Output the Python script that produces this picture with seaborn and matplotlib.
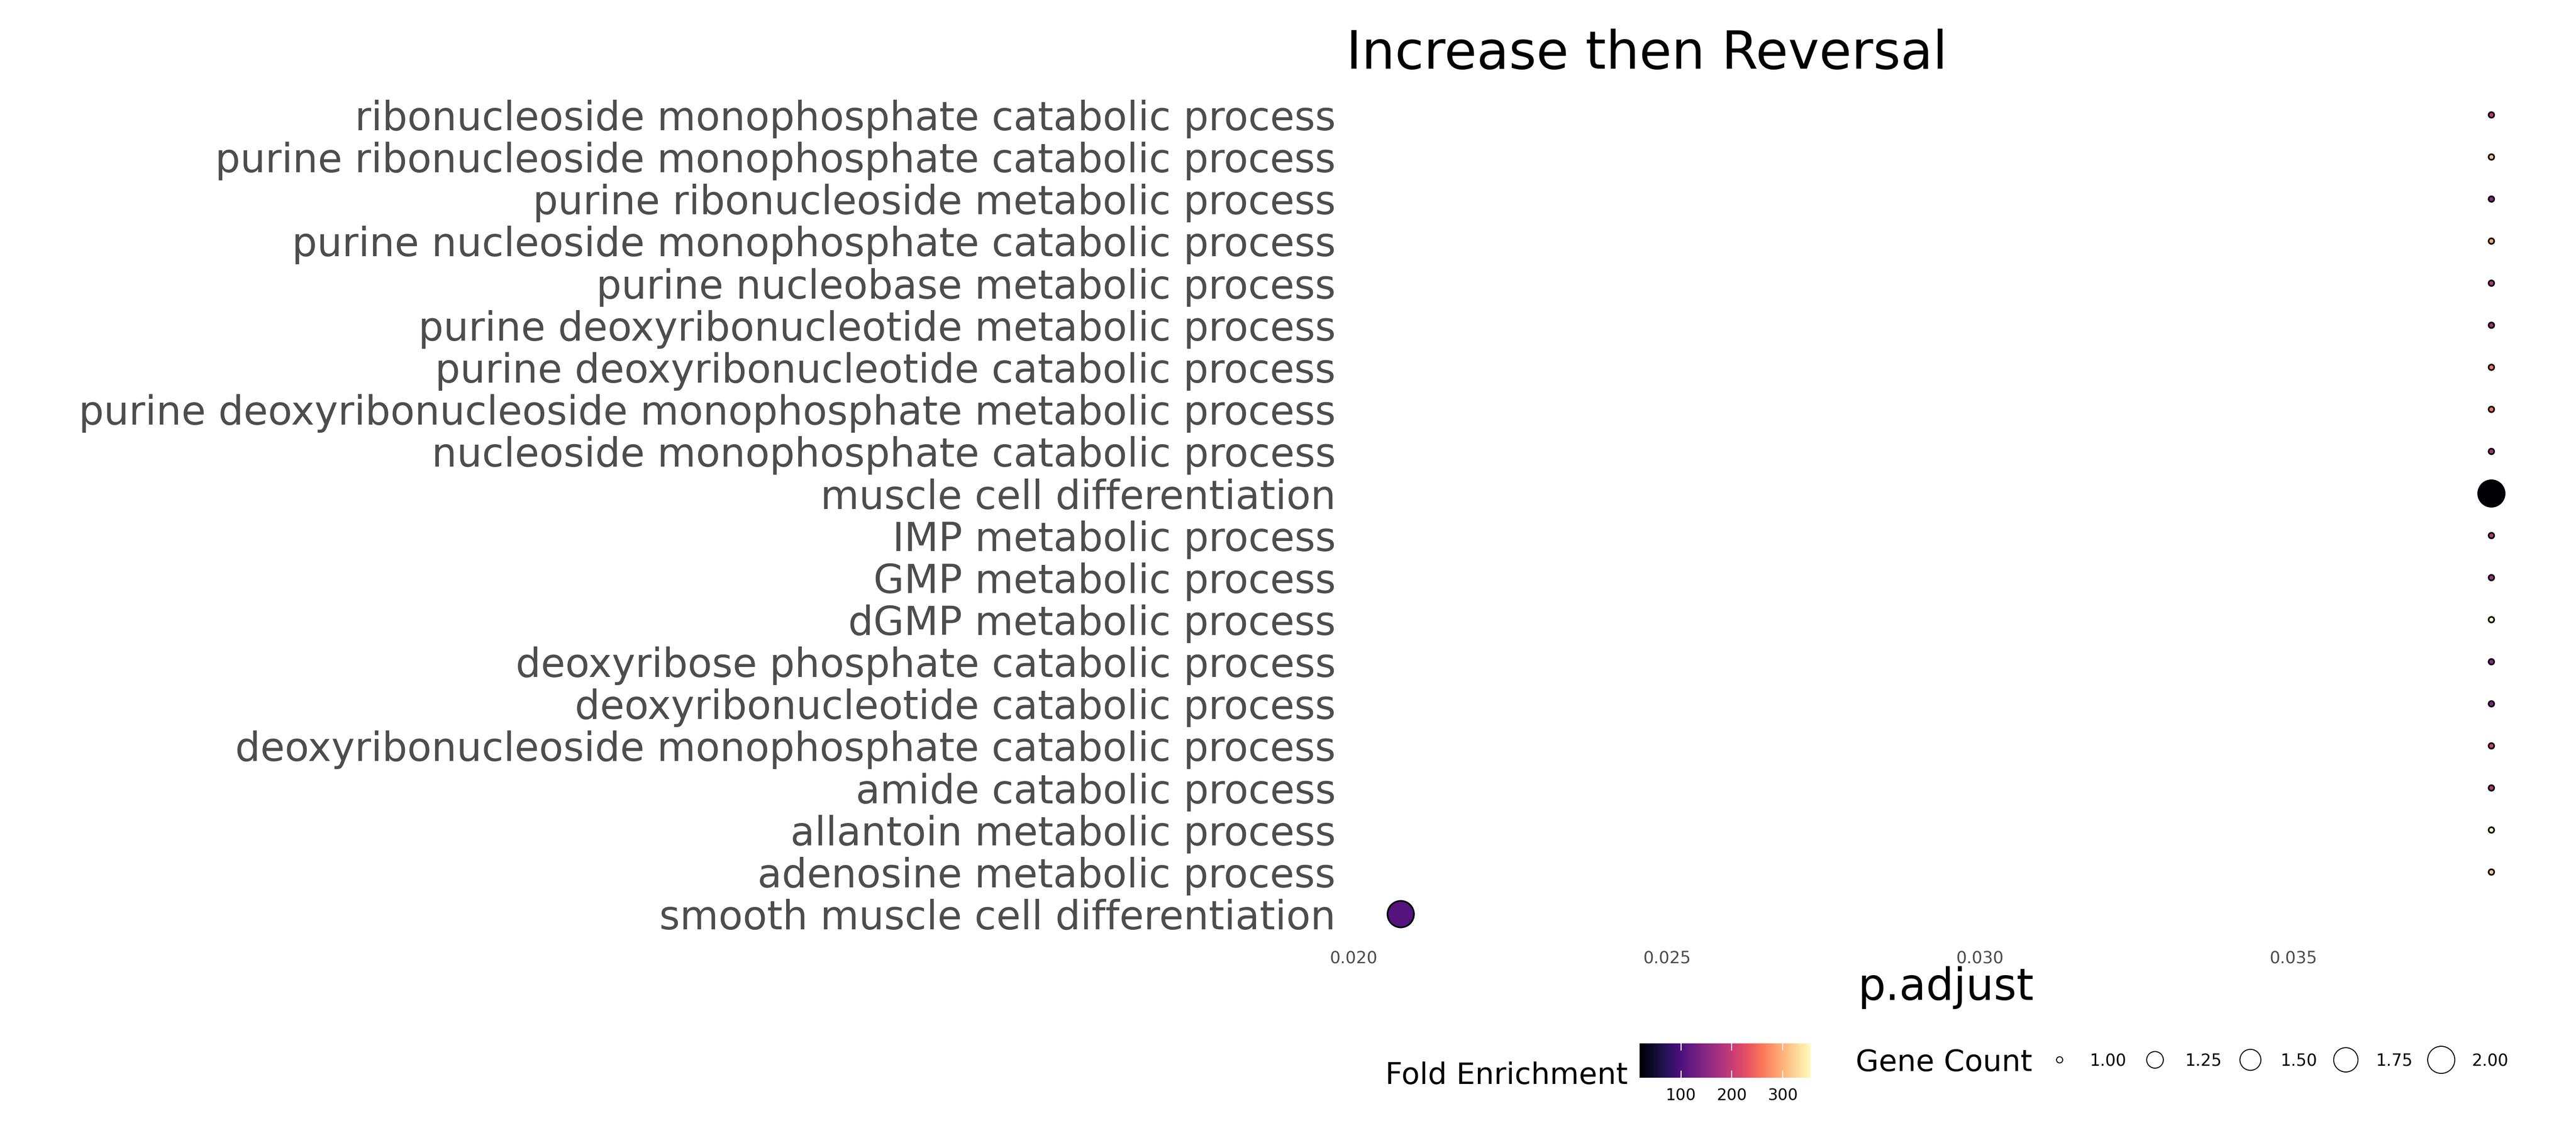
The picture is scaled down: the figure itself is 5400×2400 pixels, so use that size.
import matplotlib
matplotlib.use("Agg")
import matplotlib.pyplot as plt
import seaborn as sns
import pandas as pd
import numpy as np
from matplotlib.lines import Line2D
from matplotlib.colors import Normalize
from matplotlib.cm import ScalarMappable

# ---------------- data (top to bottom) ----------------
descriptions = [
    "ribonucleoside monophosphate catabolic process",
    "purine ribonucleoside monophosphate catabolic process",
    "purine ribonucleoside metabolic process",
    "purine nucleoside monophosphate catabolic process",
    "purine nucleobase metabolic process",
    "purine deoxyribonucleotide metabolic process",
    "purine deoxyribonucleotide catabolic process",
    "purine deoxyribonucleoside monophosphate metabolic process",
    "nucleoside monophosphate catabolic process",
    "muscle cell differentiation",
    "IMP metabolic process",
    "GMP metabolic process",
    "dGMP metabolic process",
    "deoxyribose phosphate catabolic process",
    "deoxyribonucleotide catabolic process",
    "deoxyribonucleoside monophosphate catabolic process",
    "amide catabolic process",
    "allantoin metabolic process",
    "adenosine metabolic process",
    "smooth muscle cell differentiation",
]
p_adjust = [0.03816] * 19 + [0.02075]
fold_enrichment = [194, 315, 153, 291, 184, 174, 258, 258, 174, 19,
                   187, 170, 355, 153, 143, 207, 187, 355, 315, 106]
gene_count = [1, 1, 1, 1, 1, 1, 1, 1, 1, 2,
              1, 1, 1, 1, 1, 1, 1, 1, 1, 2]

x_ticks = [0.020, 0.025, 0.030, 0.035]
cbar_ticks = [100, 200, 300]
size_legend_values = [1.00, 1.25, 1.50, 1.75, 2.00]

title = "Increase then Reversal"
x_label = "p.adjust"
color_title = "Fold Enrichment"
size_title = "Gene Count"

df = pd.DataFrame({
    "Description": descriptions,
    "p.adjust": p_adjust,
    "FoldEnrichment": fold_enrichment,
    "Count": gene_count,
})

# ---------------- figure ----------------
W, H = 5400, 2400
DPI = 300
plt.rcParams["font.family"] = ["DejaVu Sans"]
fig = plt.figure(figsize=(W / DPI, H / DPI), dpi=DPI, facecolor="white")

def fx(px):
    return px / W

def fy(py):
    return 1 - py / H

ax_l, ax_r, ax_t, ax_b = 2822, 5337, 188, 1969
ax = fig.add_axes([fx(ax_l), fy(ax_b), (ax_r - ax_l) / W, (ax_b - ax_t) / H])

fe_norm = Normalize(vmin=min(fold_enrichment), vmax=max(fold_enrichment))
s_small, s_big = 7.8, 178.0
edge_lw = 0.8

sns.scatterplot(
    data=df, x="p.adjust", y="Description",
    hue="FoldEnrichment", palette="magma", hue_norm=fe_norm,
    size="Count", sizes=(s_small, s_big), size_norm=(1, 2),
    edgecolor="black", linewidth=edge_lw, legend=False, ax=ax, zorder=3,
)

ax.margins(x=0.05)
ax.set_ylim(len(descriptions) - 0.4, -0.6)
ax.set_xticks(x_ticks)
ax.set_xticklabels([f"{t:.3f}" for t in x_ticks])
for s in ax.spines.values():
    s.set_visible(False)
ax.grid(False)
ax.set_facecolor("white")
ax.tick_params(axis="x", length=0, pad=5.5, labelsize=8.4, labelcolor="#4d4d4d")
ax.tick_params(axis="y", length=0, pad=5.3, labelsize=19.95, labelcolor="#4d4d4d")
ax.set_ylabel("")
ax.set_xlabel(x_label, fontsize=22, color="black")
ax.xaxis.set_label_coords(0.5, -(2096 - ax_b) / (ax_b - ax_t))
ax.xaxis.label.set_verticalalignment("baseline")

ax.set_title(title, loc="left", fontsize=26.45, color="black", pad=10.6)

# ---------------- colour bar legend ----------------
cb_l, cb_r, cb_t, cb_b = 3437, 3796, 2187, 2259
cax = fig.add_axes([fx(cb_l), fy(cb_b), (cb_r - cb_l) / W, (cb_b - cb_t) / H])
cb = fig.colorbar(ScalarMappable(norm=fe_norm, cmap="magma"), cax=cax,
                  orientation="horizontal")
cb.outline.set_visible(False)
cb.set_ticks(cbar_ticks)
cax.tick_params(axis="x", direction="in", length=3.6, width=0.5, color="white",
                top=True, bottom=True, labeltop=False, labelbottom=True,
                labelsize=8, pad=5.0, labelcolor="black")
fig.text(fx(3412), fy(2272), color_title, ha="right", va="baseline",
         fontsize=15, color="black")

# ---------------- size legend ----------------
fig.text(fx(3890), fy(2245), size_title, ha="left", va="baseline",
         fontsize=15, color="black")
d_min, d_max = np.sqrt(s_small), np.sqrt(s_big)
leg_lw = 0.5
handles = []
for v in size_legend_values:
    d = d_min + np.sqrt((v - 1) / (2 - 1)) * (d_max - d_min) + edge_lw - leg_lw
    handles.append(Line2D([], [], linestyle="none", marker="o", markersize=d,
                          markerfacecolor="white", markeredgecolor="black",
                          markeredgewidth=leg_lw))
fs_leg = 8.3
fs_px = fs_leg / 72 * DPI
hl = 1.2
htp = 43 / fs_px
cs = (200 - hl * fs_px - 43 - 77) / fs_px
fig.legend(handles, [f"{v:.2f}" for v in size_legend_values], ncol=5,
           loc="center left", bbox_to_anchor=(fx(4317 - hl * fs_px / 2), fy(2223)),
           frameon=False, fontsize=fs_leg, handlelength=hl, handletextpad=htp,
           columnspacing=cs, borderpad=0, borderaxespad=0)

fig.savefig("out.png", dpi=DPI, facecolor="white")
